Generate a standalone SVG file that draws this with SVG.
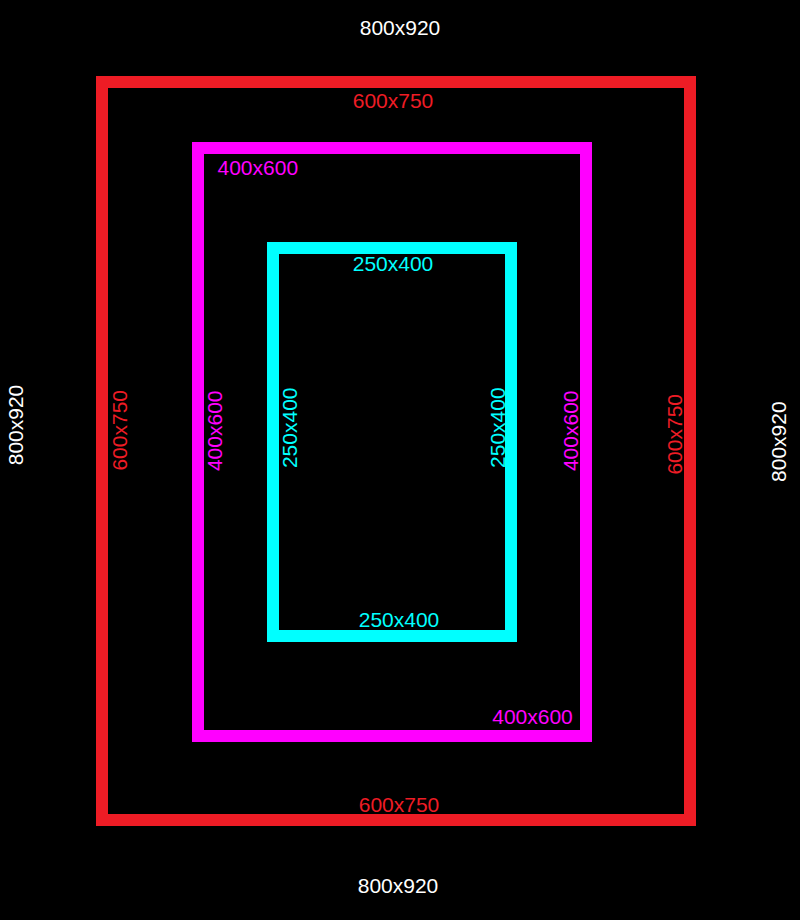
<svg xmlns="http://www.w3.org/2000/svg" width="800" height="920" viewBox="0 0 800 920">
<style>
text{font-family:"Liberation Sans",Arial,Helvetica,sans-serif;font-size:21px;text-anchor:middle}
.frame{fill:none;stroke-width:12}
.red{fill:#ee1c25}.mag{fill:#ff00ff}.cyan{fill:#00ffff}.white{fill:#ffffff}
</style>
<rect x="0" y="0" width="800" height="920" fill="#000000"/>
<g id="viewport">
<text class="white" x="400" y="35">800x920</text>
<text class="white" x="398" y="893">800x920</text>
<text class="white" transform="translate(22.5,425) rotate(-90)">800x920</text>
<text class="white" transform="translate(785.5,441.7) rotate(-90)">800x920</text>
</g>
<g id="red-frame">
<rect class="frame" x="102" y="82" width="588" height="738" stroke="#ee1c25"/>
<text class="red" x="393" y="107.5">600x750</text>
<text class="red" x="399" y="812">600x750</text>
<text class="red" transform="translate(126.5,430.3) rotate(-90)">600x750</text>
<text class="red" transform="translate(681.7,434.3) rotate(-90)">600x750</text>
</g>
<g id="magenta-frame">
<rect class="frame" x="198" y="148" width="388" height="588" stroke="#ff00ff"/>
<text class="mag" x="257.8" y="175">400x600</text>
<text class="mag" x="532.5" y="724">400x600</text>
<text class="mag" transform="translate(221.7,430.8) rotate(-90)">400x600</text>
<text class="mag" transform="translate(578.3,430.8) rotate(-90)">400x600</text>
</g>
<g id="cyan-frame">
<rect class="frame" x="273" y="248" width="238" height="388" stroke="#00ffff"/>
<text class="cyan" x="393" y="271">250x400</text>
<text class="cyan" x="399" y="627">250x400</text>
<text class="cyan" transform="translate(296.5,427.8) rotate(-90)">250x400</text>
<text class="cyan" transform="translate(505,427.7) rotate(-90)">250x400</text>
</g>
<g id="connectors"/>
</svg>
